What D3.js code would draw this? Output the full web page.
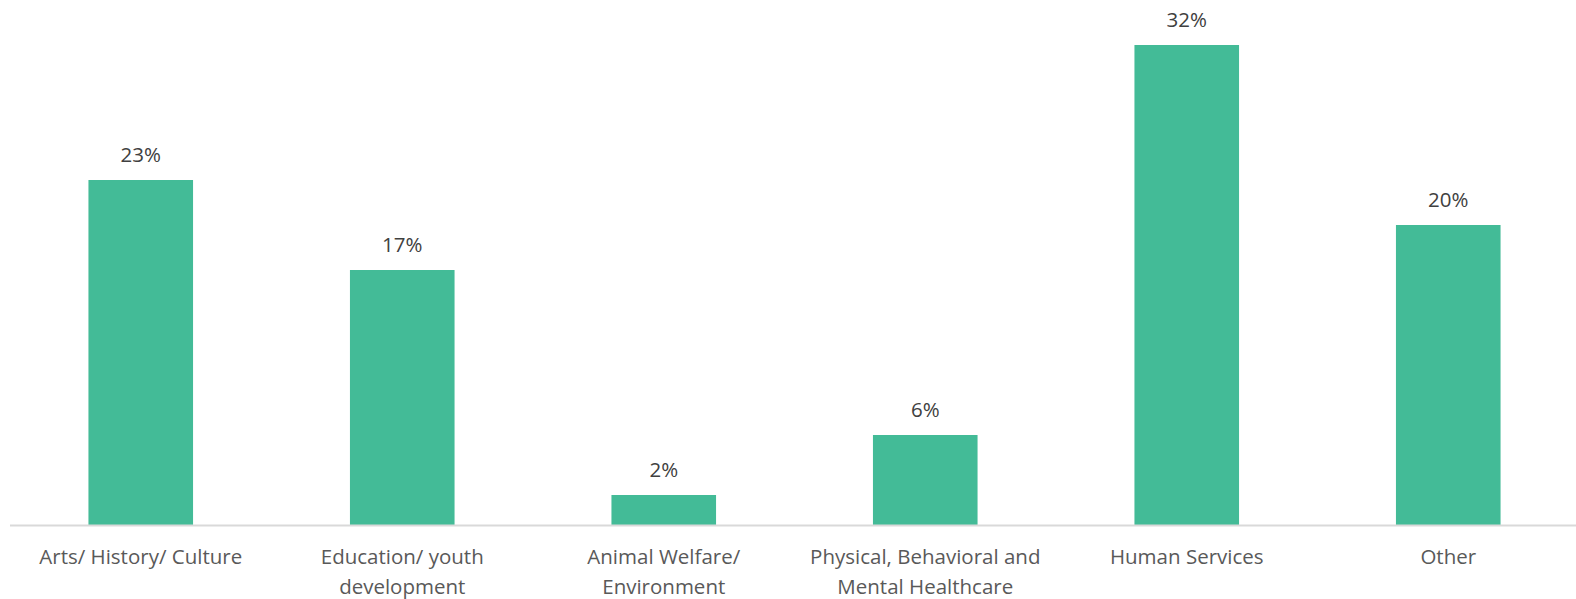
<!DOCTYPE html>
<html>
<head>
<meta charset="utf-8">
<script src="https://cdn.jsdelivr.net/npm/d3@7"></script>
<style>
  html, body { margin: 0; padding: 0; background: #fff; }
  svg { display: block; }
  text { font-family: "Open Sans", Lato, sans-serif; }
</style>
</head>
<body>
<svg id="chart" width="1576" height="599"></svg>
<script>
// Share of organisations by focus area (%)
const categories = [
  ["Arts/ History/ Culture"],
  ["Education/ youth", "development"],
  ["Animal Welfare/", "Environment"],
  ["Physical, Behavioral and", "Mental Healthcare"],
  ["Human Services"],
  ["Other"]
];
const values = [23, 17, 2, 6, 32, 20];

const width = 1576, height = 599;
const baseline = 525;
const barColor = "#43BB97";
const fontSize = 20.5;

const svg = d3.select("#chart");

const x = d3.scaleBand()
  .domain(d3.range(categories.length))
  .range([10, 1579])
  .paddingInner(0.6)
  .paddingOuter(0.3);

const y = d3.scaleLinear()
  .domain([0, 35])
  .range([baseline, 0]);

// bars
svg.append("g")
  .selectAll("rect")
  .data(values)
  .join("rect")
  .attr("x", (d, i) => x(i))
  .attr("y", d => y(d))
  .attr("width", x.bandwidth())
  .attr("height", d => baseline - y(d))
  .attr("fill", barColor);

// value labels
svg.append("g")
  .selectAll("text")
  .data(values)
  .join("text")
  .attr("x", (d, i) => x(i) + x.bandwidth() / 2)
  .attr("y", d => y(d) - 18)
  .attr("text-anchor", "middle")
  .attr("font-size", fontSize)
  .attr("fill", "#404040")
  .text(d => d + "%");

// category axis line
svg.append("line")
  .attr("x1", 10).attr("x2", width)
  .attr("y1", baseline + 0.5).attr("y2", baseline + 0.5)
  .attr("stroke", "#d9d9d9")
  .attr("stroke-width", 2);

// category labels
const cat = svg.append("g")
  .selectAll("text")
  .data(categories)
  .join("text")
  .attr("x", (d, i) => x(i) + x.bandwidth() / 2)
  .attr("y", 564)
  .attr("text-anchor", "middle")
  .attr("font-size", fontSize)
  .attr("fill", "#595959");

cat.selectAll("tspan")
  .data(d => d)
  .join("tspan")
  .attr("x", function () { return d3.select(this.parentNode).attr("x"); })
  .attr("dy", (d, j) => j === 0 ? 0 : 30)
  .text(d => d);
</script>
</body>
</html>
